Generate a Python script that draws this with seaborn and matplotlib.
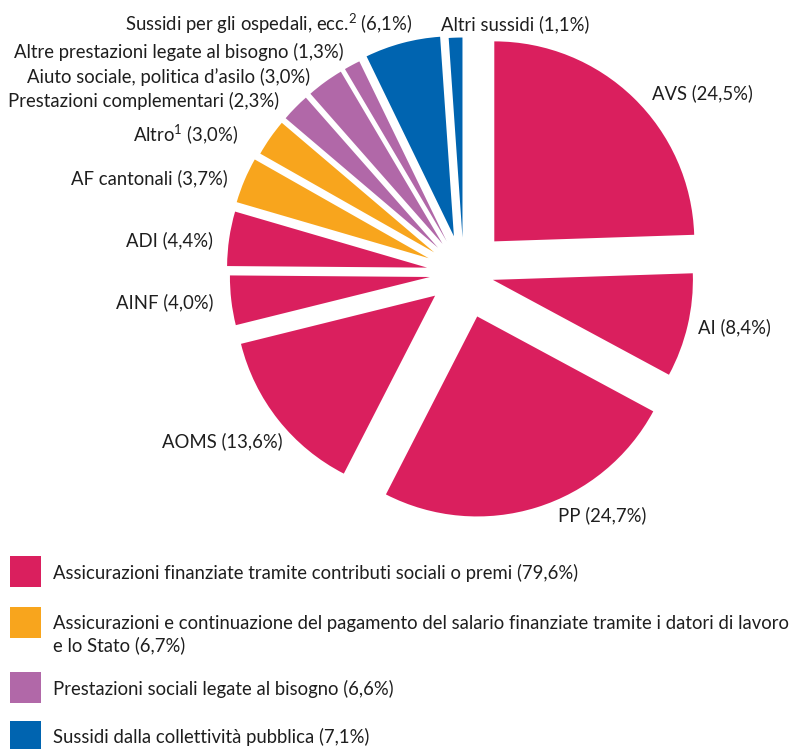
import matplotlib
matplotlib.use("Agg")
import matplotlib.pyplot as plt
import seaborn as sns
from matplotlib.patches import Rectangle

# ---------------- data ----------------
categories = ["AVS", "AI", "PP", "AOMS", "AINF", "ADI", "AF cantonali", "Altro$^1$",
              "Prestazioni complementari", "Aiuto sociale, politica d’asilo",
              "Altre prestazioni legate al bisogno", "Sussidi per gli ospedali, ecc.$^2$",
              "Altri sussidi"]
shares = [24.5, 8.4, 24.7, 13.6, 4.0, 4.4, 3.7, 3.0, 2.3, 3.0, 1.3, 6.1, 1.1]
groups = [0, 0, 0, 0, 0, 0, 1, 1, 2, 2, 2, 3, 3]
group_labels = ["Assicurazioni finanziate tramite contributi sociali o premi",
                "Assicurazioni e continuazione del pagamento del salario finanziate tramite i datori di lavoro e lo Stato",
                "Prestazioni sociali legate al bisogno",
                "Sussidi dalla collettività pubblica"]
group_shares = [79.6, 6.7, 6.6, 7.1]

# ---------------- style ----------------
group_colors = ["#DA1F5E", "#F8A51D", "#B168A8", "#0064B0"]
text_color = "#1e1e1e"

sns.set_theme(style="white")
plt.rcParams["font.family"] = ["Lato", "DejaVu Sans"]
plt.rcParams["mathtext.fontset"] = "custom"
plt.rcParams["mathtext.rm"] = "Lato"
plt.rcParams["mathtext.it"] = "Lato"
plt.rcParams["mathtext.bf"] = "Lato:bold"

W, H = 792, 749
fig = plt.figure(figsize=(W / 100, H / 100), dpi=100)
ax = fig.add_axes([0, 0, 1, 1])

radius = 200
cx, cy = 463.7, H - 273
explode_px = [44, 30, 45.5, 36.5, 34, 37, 38, 36, 36, 36, 36, 38, 35.5]

ax.pie(shares, explode=explode_px, colors=[group_colors[g] for g in groups],
       startangle=90, counterclock=False, center=(cx, cy), radius=radius,
       wedgeprops=dict(linewidth=0))
ax.set_xlim(0, W)
ax.set_ylim(0, H)
ax.set_aspect("auto")
ax.axis("off")


def fmt(v):
    return f"({v:.1f}%)".replace(".", ",")


# label layout: (x, baseline y in image px, ha)
label_layout = [
    (652, 99, "left"),
    (698, 333, "left"),
    (558, 521, "left"),
    (283, 447, "right"),
    (213, 308, "right"),
    (213, 246, "right"),
    (228, 184, "right"),
    (238, 141, "right"),
    (279, 107, "right"),
    (310, 83, "right"),
    (344, 58, "right"),
    (412, 31, "right"),
    (441, 30, "left"),
]

base_size = 13
texts = []
for name, val, (x, y, ha) in zip(categories, shares, label_layout):
    t = ax.text(x, H - y, f"{name} {fmt(val)}", ha=ha, va="baseline",
                fontsize=base_size, color=text_color)
    texts.append(t)

# legend
patch_tops = [556, 607, 672, 721]
text_baselines = [578.5, 628.5, 694.5, 743.5]
legend_texts = []
for i, (lab, val) in enumerate(zip(group_labels, group_shares)):
    ax.add_patch(Rectangle((10, H - patch_tops[i] - 31), 31, 31,
                           facecolor=group_colors[i], edgecolor="none"))
    full = f"{lab} {fmt(val)}"
    if "lavoro e lo" in full:
        lines = full.replace("lavoro e lo", "lavoro\ne lo").split("\n")
    else:
        lines = [full]
    for j, line in enumerate(lines):
        t = ax.text(53, H - (text_baselines[i] + 23 * j), line, ha="left",
                    va="baseline", fontsize=base_size, color=text_color)
        legend_texts.append(t)

# fit font size to reference text widths (row 1: 527 px, row 2 first line: 737 px)
fig.canvas.draw()
r = fig.canvas.get_renderer()
s1 = 527.0 / legend_texts[0].get_window_extent(r).width
s2 = 735.0 / legend_texts[1].get_window_extent(r).width
scale = min(s1, s2)
for t in texts + legend_texts:
    t.set_fontsize(base_size * scale)

fig.savefig("out.png", dpi=100)
